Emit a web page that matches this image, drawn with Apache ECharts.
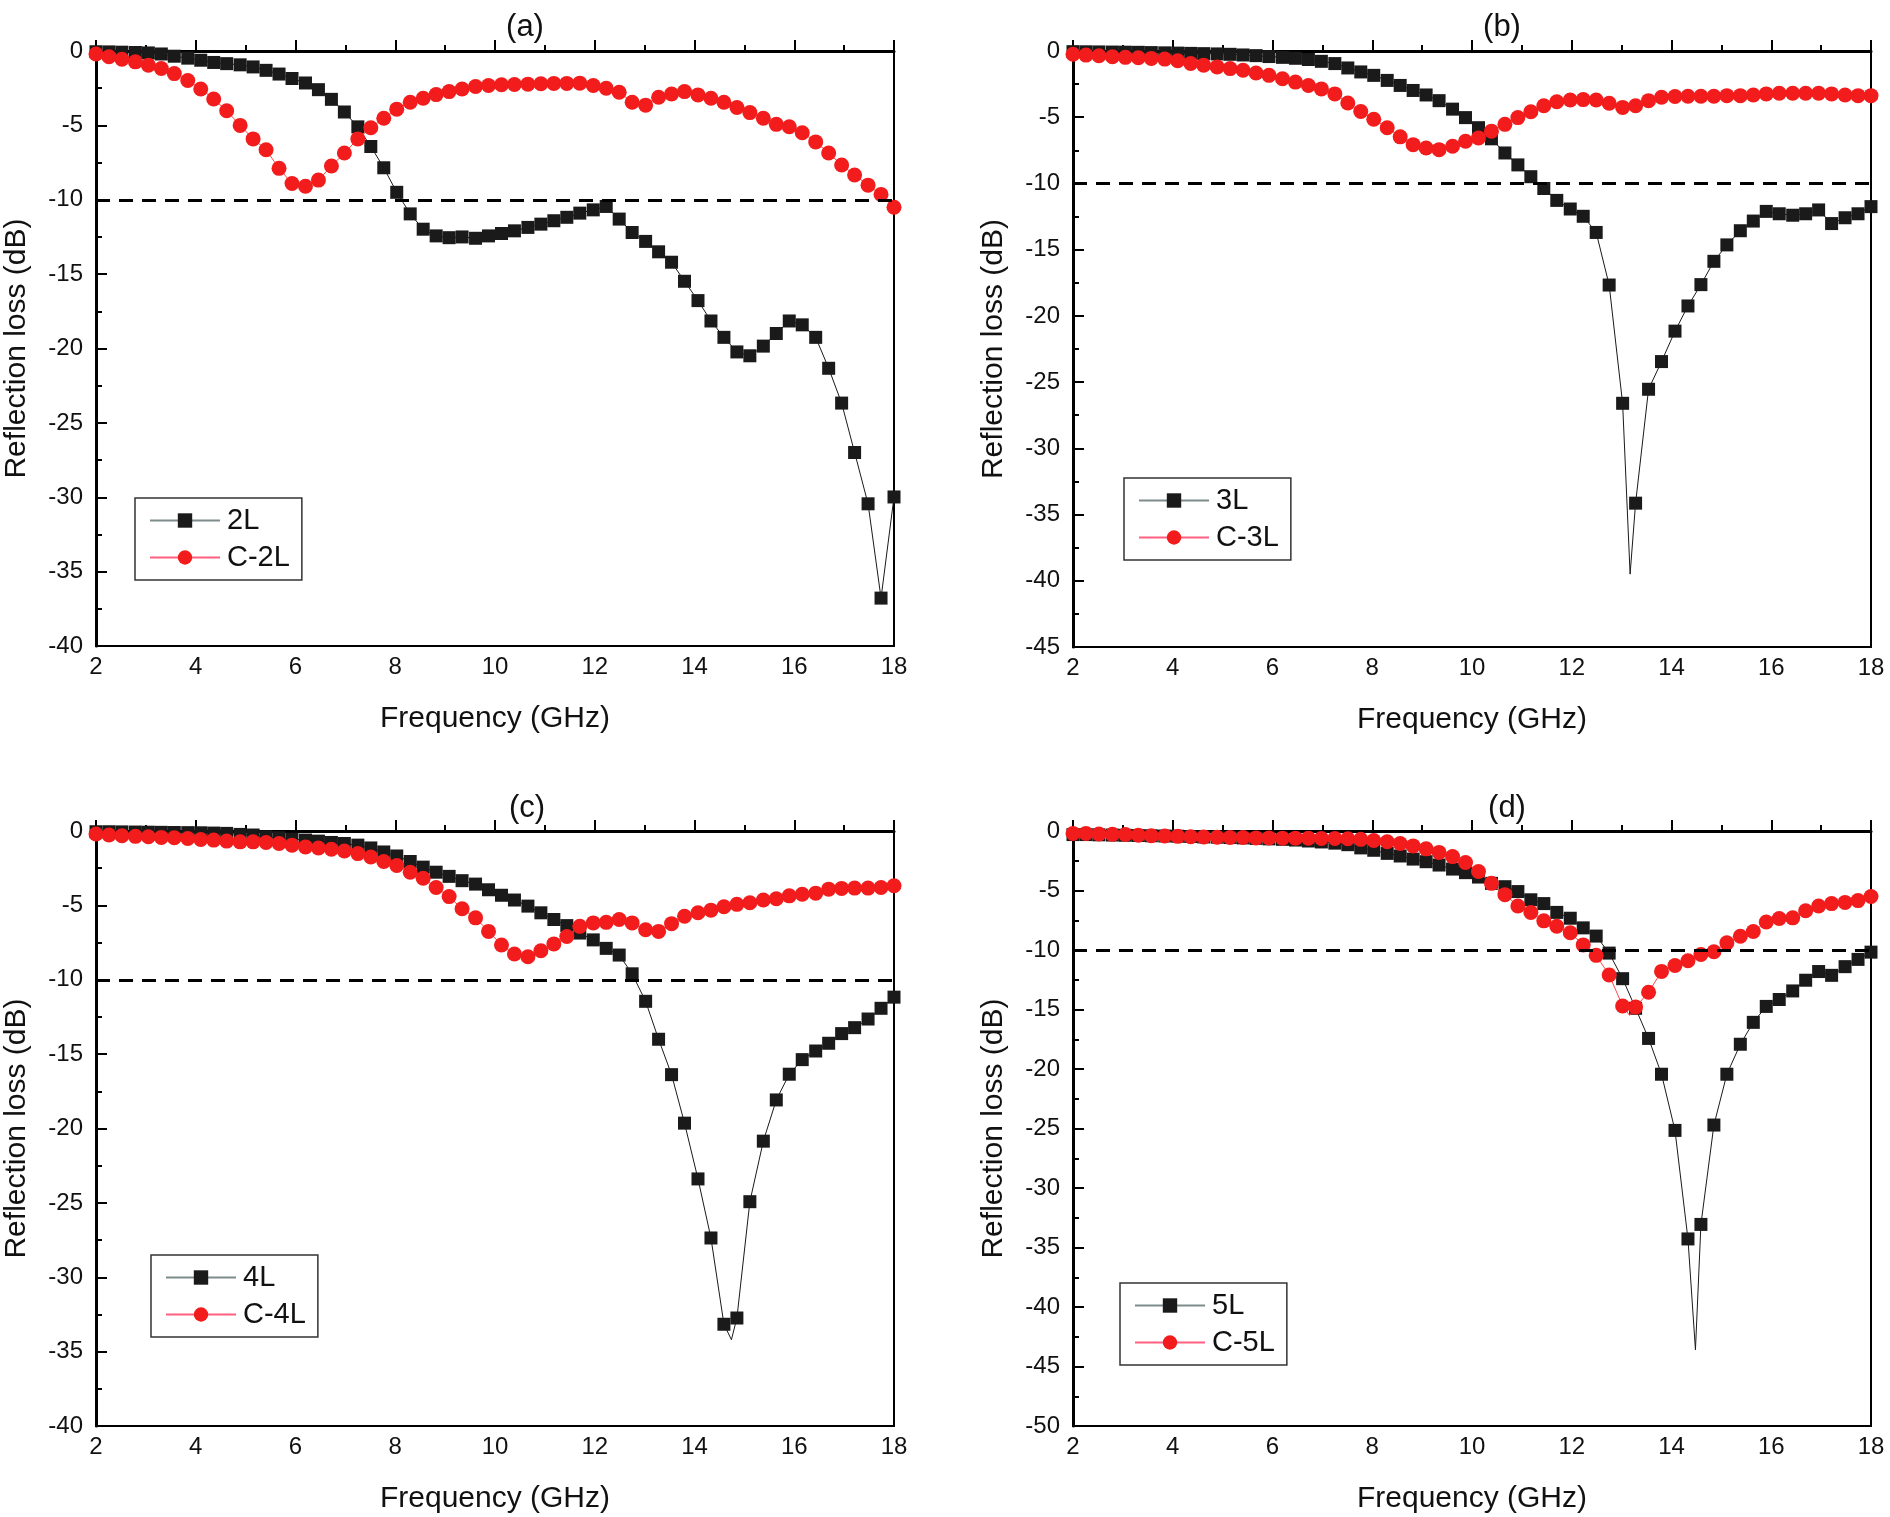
<!DOCTYPE html>
<html>
<head>
<meta charset="utf-8">
<script src="https://cdn.jsdelivr.net/npm/echarts@6/dist/echarts.min.js"></script>
<style>
  html, body { margin: 0; background: #fff; }
  #chart { width: 1890px; height: 1517px; }
</style>
</head>
<body>
<div id="chart"></div>
<script>
// measured frequency points (GHz), one marker each
const freq = [2.00, 2.26, 2.52, 2.79, 3.05, 3.31, 3.57, 3.84, 4.10, 4.36,
  4.62, 4.89, 5.15, 5.41, 5.67, 5.93, 6.20, 6.46, 6.72, 6.98,
  7.25, 7.51, 7.77, 8.03, 8.30, 8.56, 8.82, 9.08, 9.34, 9.61,
  9.87, 10.13, 10.39, 10.66, 10.92, 11.18, 11.44, 11.70, 11.97, 12.23,
  12.49, 12.75, 13.02, 13.28, 13.54, 13.80, 14.07, 14.33, 14.59, 14.85,
  15.11, 15.38, 15.64, 15.90, 16.16, 16.43, 16.69, 16.95, 17.21, 17.48,
  17.74, 18.00];

// (a)
const rl2L = [-0.05, -0.06, -0.08, -0.1, -0.13, -0.2, -0.35, -0.48, -0.62, -0.77,
  -0.85, -0.93, -1.07, -1.3, -1.55, -1.85, -2.15, -2.6, -3.25, -4.1,
  -5.1, -6.42, -7.85, -9.5, -10.95, -11.98, -12.43, -12.55, -12.5, -12.59,
  -12.43, -12.27, -12.09, -11.86, -11.64, -11.41, -11.18, -10.9, -10.68, -10.45,
  -11.3, -12.2, -12.8, -13.5, -14.2, -15.48, -16.78, -18.15, -19.25, -20.23,
  -20.49, -19.84, -18.99, -18.15, -18.41, -19.25, -21.33, -23.67, -26.99, -30.44,
  -36.78, -29.98];
const rlC2L = [-0.2, -0.39, -0.55, -0.73, -0.95, -1.18, -1.52, -1.98, -2.55, -3.23,
  -4.02, -5.0, -5.91, -6.64, -7.89, -8.91, -9.09, -8.68, -7.73, -6.86,
  -5.91, -5.16, -4.52, -3.91, -3.45, -3.18, -2.93, -2.73, -2.55, -2.39,
  -2.32, -2.27, -2.25, -2.23, -2.2, -2.18, -2.18, -2.16, -2.32, -2.5,
  -2.77, -3.45, -3.64, -3.11, -2.89, -2.73, -2.95, -3.18, -3.45, -3.8,
  -4.14, -4.52, -4.93, -5.09, -5.5, -6.11, -6.86, -7.66, -8.34, -9.02,
  -9.64, -10.5];

// (b)
const rl3L = [-0.05, -0.06, -0.07, -0.08, -0.09, -0.1, -0.12, -0.14, -0.16, -0.18,
  -0.2, -0.22, -0.25, -0.3, -0.35, -0.42, -0.48, -0.55, -0.64, -0.78,
  -0.95, -1.28, -1.58, -1.84, -2.22, -2.6, -2.98, -3.32, -3.75, -4.39,
  -5.03, -5.79, -6.63, -7.7, -8.6, -9.49, -10.38, -11.28, -11.93, -12.48,
  -13.7, -17.67, -26.6, -34.14, -25.54, -23.45, -21.15, -19.25, -17.64, -15.88,
  -14.64, -13.57, -12.84, -12.11, -12.29, -12.4, -12.29, -12.0, -13.03, -12.59,
  -12.29, -11.75];
const rlC3L = [-0.25, -0.31, -0.36, -0.43, -0.48, -0.51, -0.56, -0.61, -0.74, -0.94,
  -1.07, -1.2, -1.33, -1.45, -1.66, -1.84, -2.09, -2.35, -2.6, -2.86,
  -3.24, -3.93, -4.57, -5.15, -5.79, -6.48, -7.07, -7.32, -7.45, -7.19,
  -6.81, -6.56, -6.05, -5.54, -5.03, -4.59, -4.13, -3.83, -3.7, -3.67,
  -3.7, -3.95, -4.26, -4.13, -3.75, -3.49, -3.44, -3.42, -3.42, -3.42,
  -3.37, -3.37, -3.32, -3.24, -3.19, -3.19, -3.19, -3.19, -3.24, -3.32,
  -3.37, -3.37];

// (c)
const rl4L = [-0.05, -0.05, -0.06, -0.07, -0.08, -0.09, -0.1, -0.11, -0.12, -0.14,
  -0.16, -0.23, -0.27, -0.39, -0.45, -0.55, -0.61, -0.68, -0.77, -0.84,
  -0.95, -1.14, -1.41, -1.68, -2.05, -2.43, -2.77, -3.05, -3.34, -3.57,
  -3.95, -4.32, -4.64, -5.05, -5.5, -5.95, -6.36, -6.86, -7.32, -7.89,
  -8.34, -9.6, -11.45, -14.0, -16.38, -19.64, -23.39, -27.36, -33.16, -32.74,
  -24.92, -20.85, -18.08, -16.35, -15.37, -14.79, -14.27, -13.62, -13.22, -12.64,
  -11.92, -11.17];
const rlC4L = [-0.2, -0.27, -0.32, -0.36, -0.39, -0.43, -0.45, -0.5, -0.57, -0.61,
  -0.68, -0.73, -0.73, -0.77, -0.84, -0.95, -1.07, -1.14, -1.23, -1.34,
  -1.52, -1.75, -2.05, -2.32, -2.77, -3.18, -3.8, -4.41, -5.23, -5.84,
  -6.75, -7.66, -8.27, -8.45, -8.05, -7.59, -7.09, -6.41, -6.18, -6.14,
  -5.95, -6.18, -6.64, -6.75, -6.23, -5.73, -5.5, -5.32, -5.09, -4.93,
  -4.82, -4.64, -4.55, -4.36, -4.25, -4.18, -3.91, -3.86, -3.84, -3.84,
  -3.8, -3.68];

// (d)
const rl5L = [-0.3, -0.3, -0.32, -0.34, -0.36, -0.38, -0.4, -0.42, -0.44, -0.46,
  -0.5, -0.52, -0.55, -0.58, -0.62, -0.66, -0.7, -0.76, -0.84, -0.92,
  -1.02, -1.15, -1.42, -1.62, -1.88, -2.1, -2.36, -2.58, -2.86, -3.2,
  -3.5, -3.87, -4.4, -4.68, -5.09, -5.78, -6.1, -6.84, -7.33, -8.14,
  -8.83, -10.26, -12.41, -14.9, -17.43, -20.44, -25.16, -34.28, -33.06, -24.71,
  -20.44, -17.92, -16.08, -14.74, -14.16, -13.44, -12.54, -11.81, -12.13, -11.4,
  -10.79, -10.18];
const rlC5L = [-0.2, -0.2, -0.25, -0.28, -0.3, -0.35, -0.4, -0.42, -0.45, -0.48,
  -0.5, -0.52, -0.55, -0.55, -0.58, -0.58, -0.6, -0.6, -0.6, -0.62,
  -0.62, -0.65, -0.7, -0.8, -0.9, -1.05, -1.25, -1.5, -1.8, -2.15,
  -2.65, -3.4, -4.4, -5.35, -6.3, -6.85, -7.55, -8.0, -8.55, -9.57,
  -10.45, -12.1, -14.7, -14.8, -13.55, -11.8, -11.3, -10.9, -10.38, -10.15,
  -9.4, -8.85, -8.45, -7.65, -7.35, -7.3, -6.7, -6.3, -6.1, -6.0,
  -5.85, -5.5];

// line-only points between markers (sharp minima)
const dip3L = [[13.17, -39.5]];
const dip4L = [[14.74, -34.2]];
const dip5L = [[14.48, -43.6]];
const dipC5L = [[13.16, -15.5]];

const panelTitles = ['(a)', '(b)', '(c)', '(d)'];
const yMins = [-40, -45, -40, -50];

const FONT = 'Liberation Sans, Arial, sans-serif';
const INK = '#111';
const BLACK = '#1a1a1a';
const RED = '#f21c1c';

const grids = [
  { left: 96, top: 51, width: 798, height: 595 },
  { left: 1073, top: 51, width: 798, height: 596 },
  { left: 96, top: 831, width: 798, height: 595 },
  { left: 1073, top: 831, width: 798, height: 595 },
];
const titlePos = [[520, 7], [1497, 7], [522, 788], [1502, 788]];
const legendPos = [[135, 498], [1124, 478], [151, 1255], [1120, 1283]];

function buildData(values, extra) {
  const pts = freq.map((f, i) => [f, values[i]]);
  (extra || []).forEach(p => pts.push({ value: p, symbol: 'none' }));
  return pts.sort((a, b) => (a.value || a)[0] - (b.value || b)[0]);
}

function lineSeries(name, idx, values, extra, isRed) {
  return {
    name: name,
    type: 'line',
    xAxisIndex: idx,
    yAxisIndex: idx,
    data: buildData(values, extra),
    symbol: isRed ? 'circle' : 'rect',
    symbolSize: isRed ? 15 : 13,
    showSymbol: true,
    showAllSymbol: true,
    smooth: false,
    lineStyle: { color: isRed ? '#ff4a4a' : BLACK, width: 1 },
    itemStyle: { color: isRed ? RED : BLACK },
    z: isRed ? 3 : 2,
  };
}

const pairs = [
  ['2L', 'C-2L', rl2L, rlC2L, [], []],
  ['3L', 'C-3L', rl3L, rlC3L, dip3L, []],
  ['4L', 'C-4L', rl4L, rlC4L, dip4L, []],
  ['5L', 'C-5L', rl5L, rlC5L, dip5L, dipC5L],
];

const series = [];
pairs.forEach((p, i) => {
  const s1 = lineSeries(p[0], i, p[2], p[4], false);
  s1.markLine = {
    silent: true,
    symbol: 'none',
    label: { show: false },
    lineStyle: { color: '#000', width: 3, type: [14, 9] },
    data: [{ yAxis: -10 }],
  };
  series.push(s1);
  series.push(lineSeries(p[1], i, p[3], p[5], true));
});

const option = {
  animation: false,
  backgroundColor: '#fff',
  textStyle: { fontFamily: FONT },
  title: panelTitles.map((t, i) => ({
    text: t,
    left: titlePos[i][0],
    top: titlePos[i][1],
    textAlign: 'center',
    textStyle: { fontFamily: FONT, fontSize: 31, fontWeight: 'normal', color: INK },
  })),
  legend: pairs.map((p, i) => ({
    data: [
      { name: p[0], lineStyle: { color: '#7d8b8b', width: 2 } },
      { name: p[1], lineStyle: { color: '#ff6080', width: 2 } },
    ],
    orient: 'vertical',
    left: legendPos[i][0],
    top: legendPos[i][1],
    itemWidth: 70,
    itemHeight: 18,
    itemGap: 8,
    padding: [8, 12, 8, 14],
    borderColor: '#333',
    borderWidth: 1.5,
    backgroundColor: '#fff',
    textStyle: { fontFamily: FONT, fontSize: 29, color: INK, padding: [0, 0, 0, 2] },
  })),
  grid: grids.map(g => Object.assign({ show: true, borderColor: '#000', borderWidth: 2 }, g)),
  xAxis: grids.map((g, i) => ({
    gridIndex: i,
    type: 'value',
    min: 2,
    max: 18,
    interval: 2,
    name: 'Frequency (GHz)',
    nameLocation: 'middle',
    nameGap: 58,
    nameTextStyle: { fontFamily: FONT, fontSize: 30, color: INK },
    axisLine: { show: true, lineStyle: { color: '#000', width: 3 } },
    axisTick: { show: true, inside: true, length: 11, lineStyle: { color: '#000', width: 2 } },
    minorTick: { show: true, splitNumber: 2, length: 6, lineStyle: { color: '#000', width: 2 } },
    splitLine: { show: false },
    axisLabel: { fontFamily: FONT, fontSize: 24, color: INK, margin: 9 },
  })),
  yAxis: grids.map((g, i) => ({
    gridIndex: i,
    type: 'value',
    min: yMins[i],
    max: 0,
    interval: 5,
    name: 'Reflection loss (dB)',
    nameLocation: 'middle',
    nameGap: 64,
    nameTextStyle: { fontFamily: FONT, fontSize: 30, color: INK },
    axisLine: { show: true, lineStyle: { color: '#000', width: 3 } },
    axisTick: { show: true, inside: true, length: 11, lineStyle: { color: '#000', width: 2 } },
    minorTick: { show: true, splitNumber: 2, length: 6, lineStyle: { color: '#000', width: 2 } },
    splitLine: { show: false },
    axisLabel: { fontFamily: FONT, fontSize: 24, color: INK, margin: 13 },
  })),
  series: series,
};

const chart = echarts.init(document.getElementById('chart'));
chart.setOption(option);
</script>
</body>
</html>
